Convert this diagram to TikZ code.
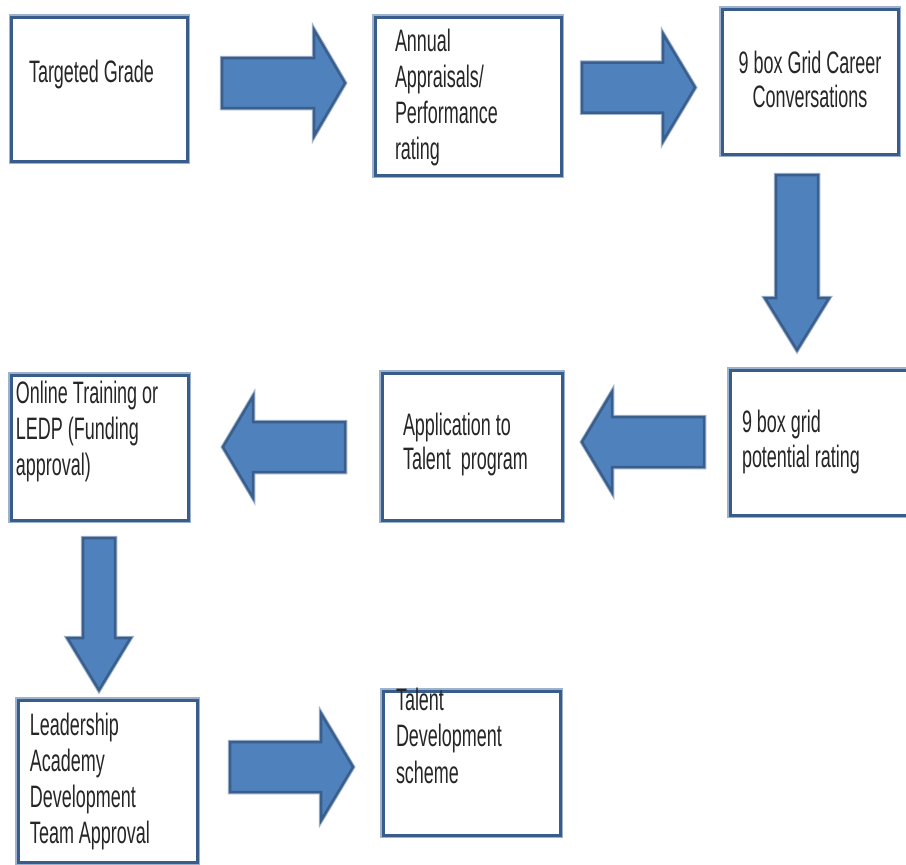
\documentclass[tikz,border=0pt]{standalone}
\usepackage{fontspec}
\setmainfont[FakeStretch=0.58]{Liberation Sans}
\definecolor{boxline}{HTML}{385D8A}
\definecolor{boxhalo}{HTML}{9DB2CD}
\definecolor{arrowfill}{HTML}{4F81BD}
\definecolor{arrowline}{HTML}{3A5F8C}
\definecolor{ink}{HTML}{262626}

% horizontal block arrow: tail x, head-base x, tip x, centre y, shaft half width, head half width
\newcommand\hblock[6]{%
  \draw[blockarrow] (#1,#4-#5) -- (#2,#4-#5) -- (#2,#4-#6) -- (#3,#4)
    -- (#2,#4+#6) -- (#2,#4+#5) -- (#1,#4+#5) -- cycle;}
% vertical block arrow: centre x, tail y, head-base y, tip y, shaft half width, head half width
\newcommand\vblock[6]{%
  \draw[blockarrow] (#1-#5,#2) -- (#1-#5,#3) -- (#1-#6,#3) -- (#1,#4)
    -- (#1+#6,#3) -- (#1+#5,#3) -- (#1+#5,#2) -- cycle;}

\begin{document}
\begin{tikzpicture}[x=1pt,y=-1pt,
  flowbox/.style={rectangle, inner sep=0pt, outer sep=0pt, fill=white,
    draw=boxline, line width=3pt,
    preaction={draw=boxhalo, line width=6pt}},
  boxtext/.style={anchor=north west, inner sep=0pt, outer sep=0pt, align=left,
    text=ink, font=\fontsize{31}{36}\selectfont,
    execute at begin node={\rule{0pt}{27pt}}},
  blockarrow/.style={fill=arrowfill, draw=arrowline, line width=2.5pt,
    line join=miter, preaction={draw=boxhalo, line width=4.5pt}}]

\useasboundingbox (0,0) rectangle (906,865);
\fill[white] (0,0) rectangle (906,865);

% process boxes
\node[flowbox, minimum width=175.5pt, minimum height=144pt] (b1) at (99.25,89) {};
\node[flowbox, minimum width=186pt, minimum height=158pt] (b2) at (468,96) {};
\node[flowbox, minimum width=176pt, minimum height=145pt] (b3) at (810,81.5) {};
\node[flowbox, minimum width=182pt, minimum height=145pt] (b4) at (821,442.5) {};
\node[flowbox, minimum width=180pt, minimum height=147pt] (b5) at (472,446.5) {};
\node[flowbox, minimum width=177pt, minimum height=145pt] (b6) at (99.5,447.5) {};
\node[flowbox, minimum width=179pt, minimum height=162pt] (b7) at (107.5,781) {};
\node[flowbox, minimum width=177pt, minimum height=144pt] (b8) at (471.5,763) {};

% box labels (position = left edge, first baseline - 27pt)
\node[boxtext] (t1) at (29,55) {Targeted Grade};
\node[boxtext] (t2) at (395,29) {Annual\\Appraisals/\\Performance\\rating};
\node[boxtext, anchor=north, align=center, font=\fontsize{31}{34}\selectfont] (t3) at (810,51) {9 box Grid Career\\Conversations};
\node[boxtext, font=\fontsize{31}{35}\selectfont] (t4) at (742,410) {9 box grid\\potential rating};
\node[boxtext, font=\fontsize{31}{34}\selectfont] (t5) at (403,413) {Application to\\Talent\ \ program};
\node[boxtext] (t6) at (16,381) {Online Training or\\LEDP (Funding\\approval)};
\node[boxtext] (t7) at (30,713) {Leadership\\Academy\\Development\\Team Approval};
\node[boxtext, font=\fontsize{31}{36.5}\selectfont] (t8) at (396,688) {Talent\\Development\\scheme};

% block arrows between the boxes
\hblock{222}{314}{345}{83}{25}{53}
\hblock{582}{663}{695}{87.5}{25}{53.5}
\vblock{797}{175}{298}{350}{21}{32}
\hblock{704}{612}{582}{442}{25}{50}
\hblock{345}{253}{223}{447}{25}{50.5}
\vblock{99}{538}{638}{690}{16}{31.5}
\hblock{230}{321}{353}{767}{25}{53.5}

\end{tikzpicture}
\end{document}
